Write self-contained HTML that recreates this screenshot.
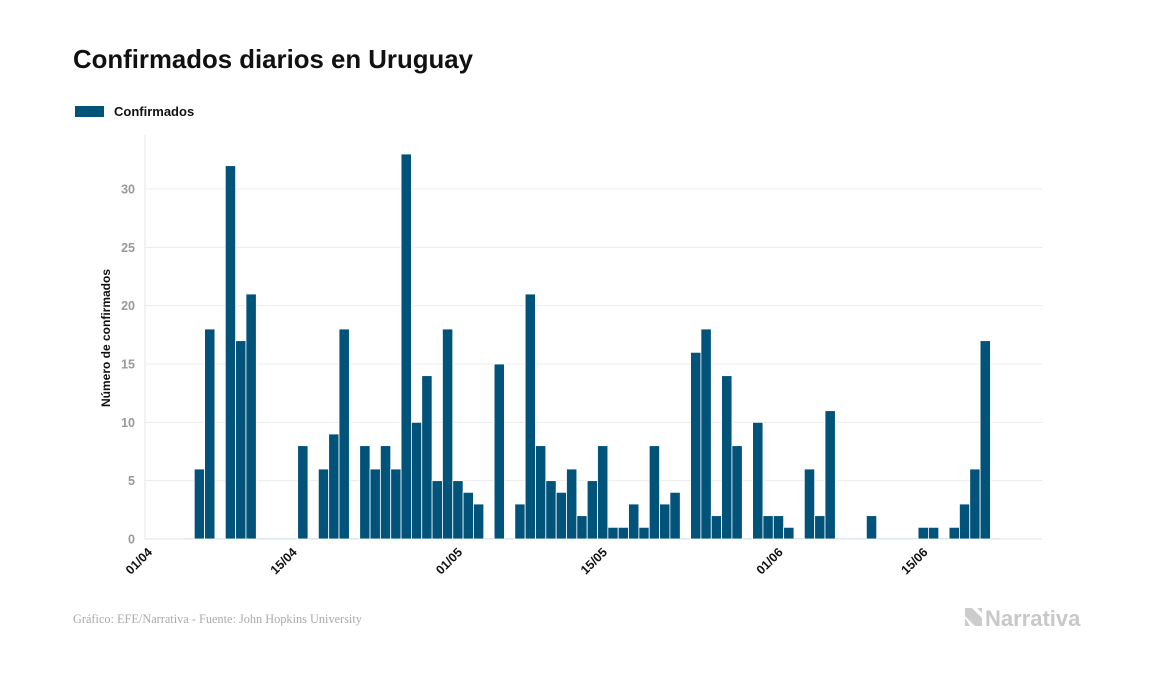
<!DOCTYPE html>
<html><head><meta charset="utf-8"><style>
body{margin:0;background:#fff;width:1157px;height:674px;overflow:hidden;font-family:"Liberation Sans",sans-serif}
</style></head><body>
<svg width="1157" height="674" xmlns="http://www.w3.org/2000/svg">
<text x="73" y="68" font-size="25.8" font-weight="bold" fill="#111">Confirmados diarios en Uruguay</text>
<rect x="75" y="106" width="29" height="11" fill="#02537a"/>
<text x="114" y="116" font-size="13" font-weight="bold" fill="#111">Confirmados</text>
<g id="grid"></g><g id="bars"></g><g id="xt"></g>
<text transform="translate(110,338) rotate(-90)" text-anchor="middle" font-size="12" font-weight="bold" fill="#111">Número de confirmados</text>
<text x="73" y="623" font-family="Liberation Serif,serif" font-size="12.3" fill="#aaa">Gráfico: EFE/Narrativa - Fuente: John Hopkins University</text>
<g><path d="M965 608 L972 608 L982 618 L982 626 L975 626 L965 616Z" fill="#ccc"/><path d="M965 618 L970 626 L965 626Z" fill="#ccc"/><path d="M977 608 L982 608 L982 613Z" fill="#ccc"/>
<text x="985" y="626" font-size="22" font-weight="bold" fill="#c8c8c8">Narrativa</text></g>
</svg>
<script>
const values=[0,6,18,0,32,17,21,0,0,0,0,8,0,6,9,18,0,8,6,8,6,33,10,14,5,18,5,4,3,0,15,0,3,
21,8,5,4,6,2,5,8,1,1,3,1,8,3,4,0,16,18,2,14,8,0,10,2,2,1,0,6,2,11,0,0,0,2,0,0,0,0,1,1,0,1,3,6,17,0];
const startOffset=3;
const yTicks=[0,5,10,15,20,25,30];
const xTickLabels=["01/04","15/04","01/05","15/05","01/06","15/06"];
const xTickDays=[0,14,30,44,61,75];
const NS="http://www.w3.org/2000/svg";
const X0=152.9,DW=10.34,Y0=539,YU=350/30;
const xs=d=>X0+d*DW, ys=v=>Y0-v*YU;
function mk(t,a,p){const e=document.createElementNS(NS,t);for(const k in a)e.setAttribute(k,a[k]);p.appendChild(e);return e;}
const grid=document.getElementById('grid');
mk('line',{x1:145,x2:145,y1:135,y2:539,stroke:'#e6e6e6'},grid);
yTicks.forEach(v=>{
 const l=mk('line',{x1:145,x2:1042,y1:ys(v),y2:ys(v),stroke:v?'#ececec':'#e3e3e3'},grid);
 
 
 const t=mk('text',{x:135,y:ys(v)+4.5,'text-anchor':'end','font-size':12.5,'font-weight':'bold',fill:'#999'},grid);
 t.textContent=v;
 
 
});
const bars=document.getElementById('bars');
values.forEach((v,i)=>{
 const x=xs(i+startOffset);
 if(v===0){const z=mk('rect',{x:x,y:Y0-1,width:DW,height:1,fill:'#dde6ec'},bars);
  
  return;}
 const r=mk('rect',{x:x,y:ys(v),width:DW,height:v*YU,fill:'#02537a',stroke:'#fff','stroke-width':0.8},bars);
 
 
});
const xt=document.getElementById('xt');
xTickLabels.forEach((s,i)=>{
 const x=xs(xTickDays[i]);
 const t=mk('text',{transform:`translate(${x},553) rotate(-45)`,'text-anchor':'end','font-size':12.5,'font-weight':'bold',fill:'#111'},xt);
 t.textContent=s;
 
 
});
</script>
</body></html>
